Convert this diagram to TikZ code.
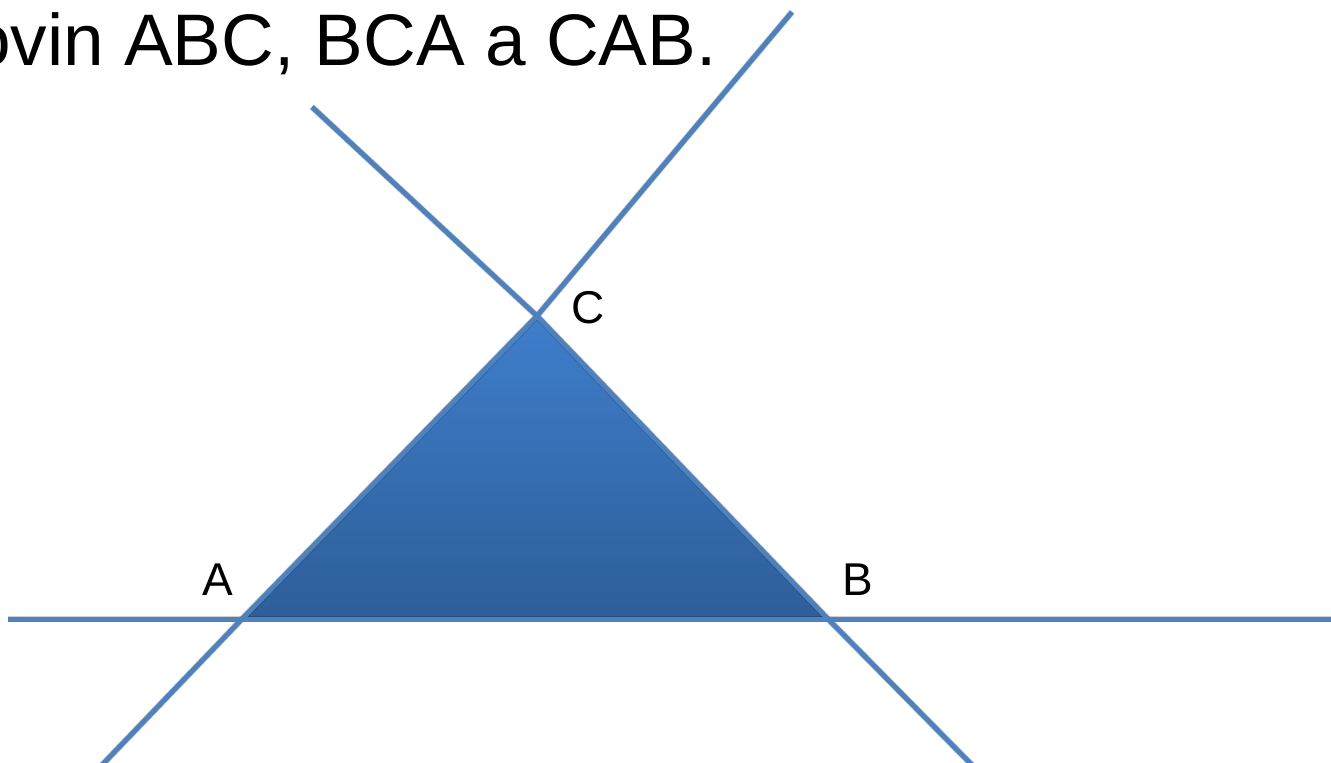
\documentclass[tikz,border=0pt]{standalone}
\usepackage{fontspec}
\setmainfont{Liberation Sans}
\definecolor{linblue}{RGB}{79,129,189}
\definecolor{tritop}{RGB}{62,126,204}
\definecolor{tribot}{RGB}{45,94,152}
\begin{document}
\begin{tikzpicture}[
	x=1pt, y=-1pt,
	ln/.style={draw=linblue, line width=5pt},
	shd/.style={draw=black, opacity=0.18, line width=6.5pt},
	lbl/.style={font=\fontsize{46}{50}\selectfont, inner sep=0pt, anchor=base west}
	]
	\useasboundingbox (0,0) rectangle (1331,763);
	% title
	\node[anchor=base west, inner sep=0pt, font=\fontsize{73}{80}\selectfont] (title) at (-30,65) {ovin ABC, BCA a CAB.};
	% vertices and line ends
	\coordinate (A) at (242,619);
	\coordinate (B) at (828,619);
	\coordinate (C) at (537,316);
	\coordinate (h1) at (8,619);
	\coordinate (h2) at (1335,619);
	\coordinate (a1) at (102,765);
	\coordinate (c1) at (792,12);
	\coordinate (c2) at (312,107);
	\coordinate (b1) at (972,765);
	% triangle
	\shade[top color=tritop, bottom color=tribot] (A) -- (C) -- (B) -- cycle;
	% shadows
	\begin{scope}[shift={(2,4)}]
		\draw[shd] (h1) -- (h2);
		\draw[shd] (a1) -- (A) -- (C) -- (c1);
		\draw[shd] (c2) -- (C) -- (B) -- (b1);
	\end{scope}
	% lines
	\draw[ln] (h1) -- (h2);
	\draw[ln] (a1) -- (A) -- (C) -- (c1);
	\draw[ln] (c2) -- (C) -- (B) -- (b1);
	% labels
	\node[lbl] (lA) at (202,595) {A};
	\node[lbl] (lB) at (842,595) {B};
	\node[lbl] (lC) at (571,323) {C};
\end{tikzpicture}
\end{document}
